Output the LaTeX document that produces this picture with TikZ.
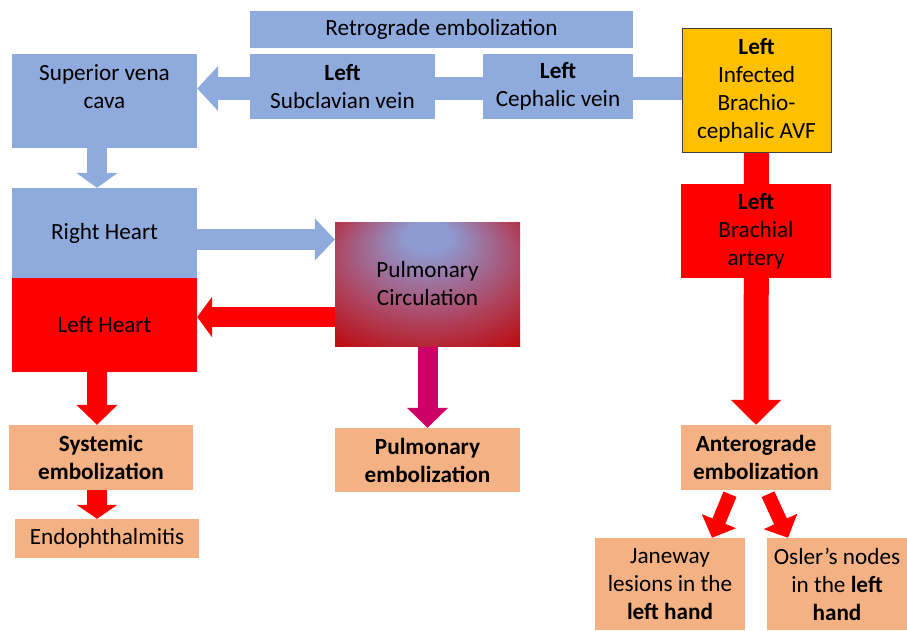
\documentclass[tikz,border=0pt]{standalone}
\usepackage{fontspec}
\setmainfont{Carlito}
\usetikzlibrary{arrows.meta}
\usetikzlibrary{calc}
\usetikzlibrary{backgrounds}
\definecolor{veinblue}{HTML}{8FAADC}
\definecolor{embsalmon}{HTML}{F4B183}
\definecolor{avfgold}{HTML}{FFC000}
\definecolor{pulmmagenta}{HTML}{CC0066}
\definecolor{pcin}{HTML}{8E9BD2}
\definecolor{pcmid}{HTML}{AC4A68}
\definecolor{pcout}{HTML}{C00000}
\pgfdeclareradialshading{pulmshade}{\pgfpoint{0bp}{22bp}}{color(0bp)=(pcin); color(6bp)=(pcin); color(24bp)=(pcmid); color(41bp)=(pcout); color(50bp)=(pcout)}

\begin{document}
\begin{tikzpicture}[
    x=1pt, y=-1pt,
    box/.style={
        rectangle, inner sep=0pt, align=center,
        font=\fontsize{23.2}{28}\selectfont
    },
    vein/.style={box, fill=veinblue},
    artery/.style={box, fill=red},
    emb/.style={box, fill=embsalmon},
    block arrow/.style n args={3}{
        line width=#1,
        -{Triangle[width=#2, length=#3]}
    }
  ]
  \useasboundingbox (0,0) rectangle (907,630);

  % venous side
  \node[vein, minimum width=383pt, minimum height=37pt] (retro) at (441.5,29.5) {Retrograde embolization};
  \node[vein, minimum width=185pt, minimum height=65pt] (subclavian) at (342.5,86.5) {\textbf{Left}\\Subclavian vein};
  \node[vein, minimum width=150pt, minimum height=65pt] (cephalic) at (558,86.5) {\textbf{Left}\\Cephalic vein};
  \node[box, fill=avfgold, draw=black!75, line width=1pt, minimum width=149pt, minimum height=124pt] (avf) at (756.5,90) {\textbf{Left}\\Infected\\Brachio-\\cephalic AVF};
  \node[vein, minimum width=185pt, minimum height=94pt] (svc) at (104.5,101) {Superior vena\\cava\\~};

  % heart and lungs
  \node[vein, minimum width=185pt, minimum height=90pt] (right_heart) at (104.5,233) {Right Heart};
  \node[artery, minimum width=185pt, minimum height=94pt] (left_heart) at (104.5,325) {Left Heart};
  \node[box, shade, shading=pulmshade, minimum width=185pt, minimum height=124pt] (pulm_circ) at (427.5,284) {Pulmonary\\Circulation};

  % arterial side
  \node[artery, minimum width=150pt, minimum height=94pt] (brachial) at (756,231) {\textbf{Left}\\Brachial\\artery};

  % embolization
  \node[emb, minimum width=184pt, minimum height=65pt] (systemic) at (101,457.5) {\textbf{Systemic}\\\textbf{embolization}};
  \node[emb, minimum width=184pt, minimum height=39pt] (endo) at (107,538.5) {Endophthalmitis};
  \node[emb, minimum width=185pt, minimum height=64pt] (pulm_emb) at (427.5,460) {\textbf{Pulmonary}\\\textbf{embolization}};
  \node[emb, minimum width=150pt, minimum height=65pt] (antero) at (756,457.5) {\textbf{Anterograde}\\\textbf{embolization}};
  \node[emb, minimum width=150pt, minimum height=92pt] (janeway) at (670,584) {Janeway\\lesions in the\\\textbf{left hand}};
  \node[emb, minimum width=141pt, minimum height=92pt] (osler) at (837,584) {Osler’s nodes\\in the \textbf{left}\\\textbf{hand}};

  \coordinate (avf_out) at ($(avf.west)+(0,-1.5)$);
  \coordinate (svc_out) at ($(svc.south)+(-7.5,0)$);
  \coordinate (rh_out) at ($(right_heart.east)+(0,6.5)$);
  \coordinate (pc_out) at ($(pulm_circ.west)+(0,33)$);
  \coordinate (lh_out) at ($(left_heart.south)+(-7.5,0)$);
  \coordinate (sys_out) at ($(systemic.south)+(-4,0)$);

  \begin{scope}[on background layer]
    \draw[veinblue, block arrow={23pt}{44pt}{21pt}] (avf_out) -- (avf_out -| svc.east);
    \draw[veinblue, block arrow={20pt}{41pt}{15pt}] (svc_out) -- (svc_out |- right_heart.north);
    \draw[veinblue, block arrow={21pt}{41pt}{20pt}] (rh_out) -- (rh_out -| pulm_circ.west);
    \draw[red, block arrow={20pt}{40pt}{15pt}] (pc_out) -- (pc_out -| left_heart.east);
    \draw[pulmmagenta, block arrow={20pt}{40pt}{20pt}] (pulm_circ.south) -- (pulm_emb.north);
    \draw[red, block arrow={20pt}{40pt}{20pt}] (lh_out) -- (lh_out |- systemic.north);
    \draw[red, block arrow={20pt}{40pt}{14pt}] (sys_out) -- (sys_out |- endo.north);
    \draw[red, block arrow={25pt}{49pt}{25pt}] (avf.south) -- (antero.north);
    \draw[red, block arrow={14pt}{36pt}{18pt}] ($(antero.south)+(-26,4)$) -- ($(janeway.north)+(42,0)$);
    \draw[red, block arrow={14pt}{36pt}{18pt}] ($(antero.south)+(12,4)$) -- ($(osler.north)+(-49,0)$);
  \end{scope}

\end{tikzpicture}
\end{document}
